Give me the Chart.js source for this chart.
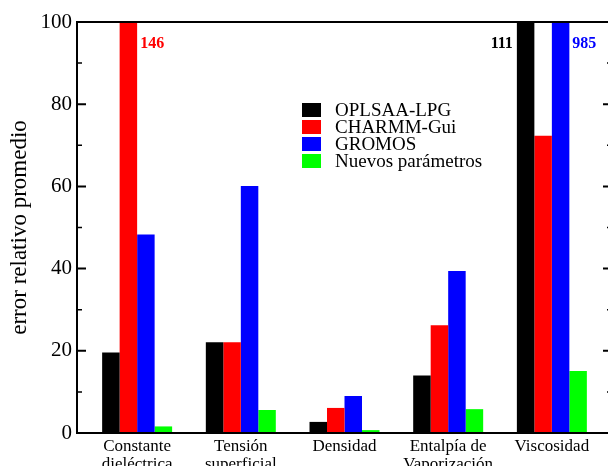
<!DOCTYPE html>
<html>
<head>
<meta charset="utf-8">
<script src="https://cdn.jsdelivr.net/npm/chart.js@4.4.1/dist/chart.umd.min.js"></script>
<style>
  html, body { margin: 0; padding: 0; background: #fff; overflow: hidden; }
  #wrap { width: 608px; height: 466px; overflow: hidden; position: relative; }
  canvas { display: block; }
</style>
</head>
<body>
<div id="wrap"><canvas id="c" width="640" height="466"></canvas></div>
<script>
// ---- data ----
const categories = [["Constante", "dieléctrica"], ["Tensión", "superficial"], "Densidad", ["Entalpía de", "Vaporización"], "Viscosidad"];
const categoryPositions = [1, 2, 3, 4, 5];
const seriesNames = ["OPLSAA-LPG", "CHARMM-Gui", "GROMOS", "Nuevos parámetros"];
const oplsaa = [19.6, 22.1, 2.7, 14.0, 111];
const charmm = [146, 22.1, 6.1, 26.2, 72.3];
const gromos = [48.3, 60.1, 9.0, 39.4, 985];
const nuevos = [1.6, 5.6, 0.7, 5.8, 15.1];
const yTicks = [0, 20, 40, 60, 80, 100];
const yMinorTicks = [10, 30, 50, 70, 90];
const yTitle = "error relativo promedio";

const colors = ["#000000", "#ff0000", "#0000ff", "#00ff00"];
const FONT = "'Liberation Serif', 'Times New Roman', serif";

function toPoints(arr) { return arr.map((v, i) => ({ x: categoryPositions[i], y: v })); }
const allSeries = [oplsaa, charmm, gromos, nuevos];

const framePlugin = {
  id: 'frame',
  afterDatasetsDraw(chart) {
    const { ctx, chartArea: a } = chart;
    const ys = chart.scales.y;
    ctx.save();
    ctx.strokeStyle = '#000';
    // inward ticks
    const drawTick = (v, len, w) => {
      const y = ys.getPixelForValue(v);
      ctx.lineWidth = w;
      ctx.beginPath();
      ctx.moveTo(a.left, y); ctx.lineTo(a.left + len, y);
      ctx.moveTo(a.right, y); ctx.lineTo(a.right - len, y);
      ctx.stroke();
    };
    yTicks.forEach(v => drawTick(v, 9, 2));
    yMinorTicks.forEach(v => drawTick(v, 5, 1.5));
    ctx.lineWidth = 2;
    ctx.strokeRect(a.left, a.top, a.right - a.left, a.bottom - a.top);

    // value labels for bars above the axis maximum
    ctx.font = "bold 16px " + FONT;
    ctx.textBaseline = 'alphabetic';
    chart.data.datasets.forEach((ds, di) => {
      const meta = chart.getDatasetMeta(di);
      ds.data.forEach((p, i) => {
        if (p.y > ys.max) {
          const bar = meta.data[i];
          const half = bar.width / 2;
          ctx.fillStyle = colors[di];
          if (di === 0) {
            ctx.textAlign = 'right';
            ctx.fillText(String(p.y), bar.x - half - 4, a.top + 26);
          } else {
            ctx.textAlign = 'left';
            ctx.fillText(String(p.y), bar.x + half + 3, a.top + 26);
          }
        }
      });
    });

    // legend
    ctx.font = "19px " + FONT;
    ctx.textAlign = 'left';
    chart.data.datasets.forEach((ds, di) => {
      const by = a.top + 81 + di * 17;
      ctx.fillStyle = ds.backgroundColor;
      ctx.fillRect(a.left + 225, by, 19, 14);
      ctx.fillStyle = '#000';
      ctx.fillText(ds.label, a.left + 258, by + 13);
    });
    ctx.restore();
  }
};

new Chart(document.getElementById('c'), {
  type: 'bar',
  data: {
    datasets: seriesNames.map((n, i) => ({
      label: n,
      data: toPoints(allSeries[i]),
      backgroundColor: colors[i],
      borderWidth: 0,
      categoryPercentage: 0.675,
      barPercentage: 1.0
    }))
  },
  options: {
    responsive: false,
    animation: false,
    devicePixelRatio: 1,
    layout: { padding: { left: 0, top: 22, right: 28, bottom: 0 } },
    plugins: { legend: { display: false }, tooltip: { enabled: false } },
    scales: {
      x: {
        type: 'linear',
        offset: false,
        min: 0.42,
        max: 5.58,
        grid: { display: false, drawTicks: false, offset: false },
        border: { display: false },
        afterBuildTicks(scale) { scale.ticks = categoryPositions.map(v => ({ value: v })); },
        afterFit(scale) { scale.height = 33; },
        ticks: {
          autoSkip: false,
          maxRotation: 0,
          padding: 4,
          color: '#000',
          font: { family: FONT, size: 17, lineHeight: 1.08 },
          callback: (v) => {
            const i = categoryPositions.indexOf(v);
            return i >= 0 ? categories[i] : '';
          }
        }
      },
      y: {
        min: 0,
        max: 100,
        grid: { display: false, drawTicks: false },
        border: { display: false },
        afterBuildTicks(scale) { scale.ticks = yTicks.map(v => ({ value: v })); },
        afterFit(scale) { scale.width = 77; },
        ticks: {
          padding: 5,
          color: '#000',
          font: { family: FONT, size: 21 }
        },
        title: {
          display: true,
          text: yTitle,
          color: '#000',
          padding: { top: 6, bottom: 0 },
          font: { family: FONT, size: 23, lineHeight: 1.2 }
        }
      }
    }
  },
  plugins: [framePlugin]
});
</script>
</body>
</html>
